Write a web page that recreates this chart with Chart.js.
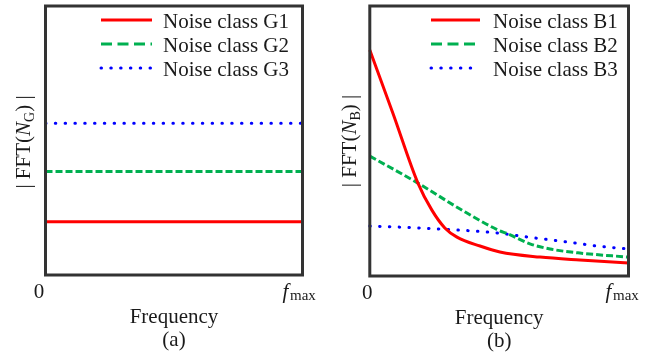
<!DOCTYPE html>
<html><head><meta charset="utf-8">
<script src="https://cdn.jsdelivr.net/npm/chart.js@4/dist/chart.umd.min.js"></script>
<style>
html,body{margin:0;padding:0;background:#fff;}
#wrap{position:relative;width:652px;height:353px;overflow:hidden;background:#fff;}
canvas{position:absolute;top:0;}
#ca{left:0;} #cb{left:326px;}
</style></head><body>
<div id="wrap"><canvas id="ca" width="326" height="353"></canvas><canvas id="cb" width="326" height="353"></canvas></div>
<script>
// ---- data (frequency as % of f_max, magnitude in arbitrary units 0-100) ----
const freqG = [0, 100];
const seriesG1 = [19.8, 19.8];
const seriesG2 = [38.5, 38.5];
const seriesG3 = [56.4, 56.4];

const freqB1 = [0, 9.0, 18.6, 24.0, 29.0, 33.7, 42.6, 50.3, 65.8, 81.2, 100];
const seriesB1 = [83.7, 60.1, 34.4, 24.4, 17.8, 14.4, 11.1, 8.9, 7.0, 5.9, 4.8];
const freqB2 = [0, 18.6, 34.9, 49.6, 53.4, 61.9, 69.7, 81.2, 100];
const seriesB2 = [44.4, 34.4, 24.8, 17.0, 15.6, 11.9, 10.0, 8.5, 7.0];
const freqB3 = [0, 18.6, 49.6, 61.2, 76.4, 88.0, 100];
const seriesB3 = [18.5, 17.8, 15.9, 14.4, 12.6, 11.1, 10.0];

const labelsG = ['Noise class G1', 'Noise class G2', 'Noise class G3'];
const labelsB = ['Noise class B1', 'Noise class B2', 'Noise class B3'];
const xTickValues = [0, 100];
const xTickLabels = ['0', 'f'];
const xTickSub = ['', 'max'];
const xTitle = 'Frequency';
const captions = ['(a)', '(b)'];
const yTitleA = ['| FFT(', 'N', 'G', ') |'];
const yTitleB = ['| FFT(', 'N', 'B', ') |'];

// ---- styling ----
const FAM = '"Liberation Serif", "Times New Roman", serif';
const RED = '#ff0000', GREEN = '#00b050', BLUE = '#0000ff';
const TXT = '#1a1a1a';

function pts(xs, ys) { return xs.map((x, i) => ({x: x, y: ys[i]})); }

function styleSet(label, data, kind) {
  const base = {label, data, pointRadius: 0, borderWidth: 3, fill: false,
    cubicInterpolationMode: 'monotone', clip: 2};
  if (kind === 0) return Object.assign(base, {borderColor: RED, legendDash: []});
  if (kind === 1) return Object.assign(base, {borderColor: GREEN, borderDash: [7, 3], legendDash: [11, 5.5]});
  return Object.assign(base, {borderColor: BLUE, borderDash: [0.5, 9.3], borderCapStyle: 'round',
    legendDash: [0.5, 9.3], legendCap: 'round'});
}

const decor = {
  id: 'decor',
  afterDatasetsDraw(chart, args, o) {
    const ctx = chart.ctx, a = chart.chartArea;
    ctx.save();
    // frame
    ctx.strokeStyle = '#333'; ctx.lineWidth = 3; ctx.setLineDash([]);
    ctx.strokeRect(a.left, a.top, a.right - a.left, a.bottom - a.top);
    // legend
    chart.data.datasets.forEach((ds, i) => {
      const y = o.legY + i * o.legStep;
      ctx.beginPath();
      ctx.strokeStyle = ds.borderColor; ctx.lineWidth = 3;
      ctx.lineCap = ds.legendCap || 'butt';
      ctx.setLineDash(ds.legendDash);
      ctx.moveTo(o.legX1, y); ctx.lineTo(o.legX2, y); ctx.stroke();
      ctx.setLineDash([]);
      ctx.fillStyle = TXT; ctx.font = '21px ' + FAM;
      ctx.textAlign = 'left'; ctx.textBaseline = 'alphabetic';
      ctx.fillText(ds.label, o.legTX, y + 8);
    });
    // f_max tick label
    const xs = chart.scales.x;
    const px = xs.getPixelForValue(xTickValues[1]);
    ctx.fillStyle = TXT; ctx.textAlign = 'left'; ctx.textBaseline = 'alphabetic';
    ctx.font = 'italic 21px ' + FAM;
    ctx.fillText(xTickLabels[1], px + o.fDx, 298);
    ctx.font = '15px ' + FAM;
    ctx.fillText(xTickSub[1], px + o.fDx + 7.5, 300);
    // y title (rotated)
    const t = o.yTitle;
    const segs = [
      {s: t[0], f: '21px ' + FAM, dy: 0},
      {s: t[1], f: 'italic 21px ' + FAM, dy: 0},
      {s: t[2], f: '14px ' + FAM, dy: 4},
      {s: t[3], f: '21px ' + FAM, dy: 0}
    ];
    let w = 0;
    segs.forEach(g => { ctx.font = g.f; g.w = ctx.measureText(g.s).width; w += g.w; });
    ctx.translate(o.yTx, o.yTy);
    ctx.rotate(-Math.PI / 2);
    let cx = -w / 2;
    segs.forEach(g => { ctx.font = g.f; ctx.fillText(g.s, cx, 7 + g.dy); cx += g.w; });
    ctx.restore();
  }
};

function makeChart(id, datasets, cfg) {
  return new Chart(document.getElementById(id), {
    type: 'line',
    data: {datasets},
    options: {
      responsive: false, devicePixelRatio: 1, animation: false,
      layout: {padding: {left: cfg.left, right: 326 - cfg.right, top: 6, bottom: cfg.padB}},
      plugins: {
        legend: {display: false}, tooltip: {enabled: false},
        decor: cfg.decor
      },
      scales: {
        x: {
          type: 'linear', min: 0, max: 100,
          grid: {display: false, drawTicks: false}, border: {display: false},
          afterBuildTicks: s => { s.ticks = xTickValues.map(v => ({value: v})); },
          ticks: {padding: 6.5, labelOffset: cfg.labOff, maxRotation: 0, autoSkip: false,
            font: {family: FAM, size: 21, lineHeight: 1}, color: TXT,
            callback: v => (v === xTickValues[0] ? xTickLabels[0] : '')},
          title: {display: true, text: [xTitle, cfg.caption], color: TXT,
            font: {family: FAM, size: 21, lineHeight: 23 / 21}, padding: {top: -3.5, bottom: 0}}
        },
        y: {display: false, min: 0, max: 100}
      }
    },
    plugins: [decor]
  });
}

makeChart('ca', [
  styleSet(labelsG[0], pts(freqG, seriesG1), 0),
  styleSet(labelsG[1], pts(freqG, seriesG2), 1),
  styleSet(labelsG[2], pts(freqG, seriesG3), 2)
], {left: 45.5, right: 302.5, padB: 1.5, labOff: -6.5, caption: captions[0],
    decor: {legX1: 101, legX2: 152, legTX: 163, legY: 20, legStep: 24, fDx: -20, yTitle: yTitleA, yTx: 23, yTy: 142}});

makeChart('cb', [
  styleSet(labelsB[0], pts(freqB1, seriesB1), 0),
  styleSet(labelsB[1], pts(freqB2, seriesB2), 1),
  styleSet(labelsB[2], pts(freqB3, seriesB3), 2)
], {left: 43.8, right: 302.5, padB: 0.5, labOff: -2.5, caption: captions[1],
    decor: {legX1: 105, legX2: 154, legTX: 167, legY: 20, legStep: 24, fDx: -23, yTitle: yTitleB, yTx: 23, yTy: 141}});
</script>
</body></html>
